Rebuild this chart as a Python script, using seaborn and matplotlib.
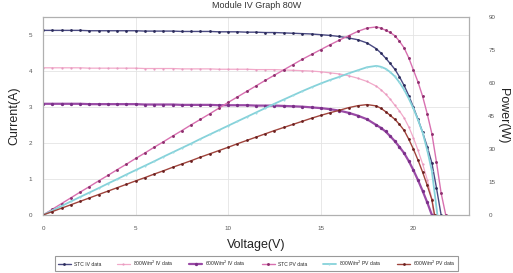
import matplotlib
matplotlib.use("Agg")
import matplotlib.pyplot as plt
import seaborn as sns

# ---------- data ----------
# common voltage points on the flat/linear part (0 .. 18 V, every 0.5 V)
volts = [0, 0.5, 1, 1.5, 2, 2.5, 3, 3.5, 4, 4.5, 5, 5.5, 6, 6.5, 7, 7.5, 8, 8.5, 9, 9.5,
         10, 10.5, 11, 11.5, 12, 12.5, 13, 13.5, 14, 14.5, 15, 15.5, 16, 16.5, 17, 17.5, 18]

# IV curves (A)
stc_iv = [5.13, 5.13, 5.13, 5.13, 5.13, 5.12, 5.12, 5.12, 5.12, 5.12, 5.12, 5.11, 5.11, 5.11, 5.11, 5.10, 5.10, 5.10,
          5.10, 5.09, 5.09, 5.09, 5.08, 5.08, 5.07, 5.07, 5.06, 5.05, 5.04, 5.03, 5.01, 4.99, 4.96, 4.92, 4.87, 4.78, 4.62]
stc_iv_tail_v = [18.25, 18.5, 18.75, 19, 19.25, 19.5, 19.75, 20, 20.25, 20.5, 20.75, 21, 21.25, 21.5]
stc_iv_tail = [4.50, 4.36, 4.21, 4.05, 3.84, 3.60, 3.32, 3.00, 2.66, 2.30, 1.90, 1.45, 0.75, 0.0]

iv_800 = [4.09, 4.09, 4.09, 4.09, 4.09, 4.08, 4.08, 4.08, 4.08, 4.08, 4.08, 4.07, 4.07, 4.07, 4.07, 4.06, 4.06, 4.06,
          4.06, 4.05, 4.05, 4.05, 4.05, 4.04, 4.04, 4.04, 4.03, 4.02, 4.01, 4.00, 3.98, 3.95, 3.92, 3.87, 3.80, 3.71, 3.58]
iv_800_tail_v = [18.25, 18.5, 18.75, 19, 19.25, 19.5, 19.75, 20, 20.25, 20.5, 20.75, 21, 21.1]
iv_800_tail = [3.48, 3.36, 3.22, 3.05, 2.89, 2.70, 2.45, 2.15, 1.80, 1.42, 0.98, 0.45, 0.0]

iv_600 = [3.09, 3.09, 3.09, 3.09, 3.09, 3.08, 3.08, 3.08, 3.08, 3.08, 3.08, 3.07, 3.07, 3.07, 3.07, 3.06, 3.06, 3.06,
          3.06, 3.05, 3.05, 3.05, 3.05, 3.04, 3.04, 3.04, 3.03, 3.02, 3.01, 2.99, 2.97, 2.94, 2.90, 2.84, 2.76, 2.66, 2.50]
iv_600_tail_v = [18.25, 18.5, 18.75, 19, 19.25, 19.5, 19.75, 20, 20.25, 20.5, 20.75, 21]
iv_600_tail = [2.42, 2.32, 2.19, 2.05, 1.89, 1.72, 1.50, 1.25, 0.97, 0.67, 0.35, 0.0]

# PV curves (W)
stc_pv = [0, 2.6, 5.2, 7.8, 10.4, 12.9, 15.5, 18.0, 20.6, 23.1, 25.7, 28.2, 30.8, 33.3, 35.9, 38.4, 41.0, 43.5, 46.0,
          48.6, 51.2, 53.7, 56.2, 58.7, 61.2, 63.6, 66.0, 68.4, 70.8, 73.0, 75.2, 77.4, 79.5, 81.5, 83.5, 85.0, 85.5]
stc_pv_tail_v = [18.25, 18.5, 18.75, 19, 19.25, 19.5, 19.75, 20, 20.25, 20.5, 20.75, 21, 21.25, 21.5, 21.75]
stc_pv_tail = [85.0, 84.0, 83.0, 81.5, 79.0, 76.0, 71.5, 66.0, 60.5, 54.0, 46.0, 37.0, 24.0, 10.0, 0.0]

pv_800 = [0, 2.05, 4.1, 6.15, 8.2, 10.2, 12.2, 14.3, 16.3, 18.4, 20.4, 22.4, 24.4, 26.5, 28.5, 30.5, 32.5, 34.6, 36.6,
          38.6, 40.6, 42.6, 44.6, 46.6, 48.6, 50.6, 52.5, 54.4, 56.3, 58.1, 59.8, 61.4, 62.8, 64.4, 65.8, 67.2, 67.8]
pv_800_tail_v = [18.25, 18.5, 18.75, 19, 19.25, 19.5, 19.75, 20, 20.25, 20.5, 20.75, 21, 21.3]
pv_800_tail = [67.4, 66.5, 65.0, 63.0, 60.3, 57.0, 53.0, 48.5, 43.3, 37.5, 29.5, 20.0, 0.0]

pv_600 = [0, 1.55, 3.1, 4.65, 6.2, 7.75, 9.3, 10.85, 12.4, 13.95, 15.5, 17.0, 18.6, 20.1, 21.7, 23.2, 24.7, 26.3, 27.8,
          29.3, 30.8, 32.4, 33.9, 35.4, 36.9, 38.4, 39.8, 41.2, 42.6, 44.0, 45.3, 46.5, 47.6, 48.8, 49.7, 50.2, 49.6]
pv_600_tail_v = [18.25, 18.5, 18.75, 19, 19.25, 19.5, 19.75, 20, 20.25, 20.5, 20.75, 21, 21.15]
pv_600_tail = [48.5, 47.0, 45.3, 43.5, 41.2, 38.5, 34.5, 30.0, 25.0, 19.5, 13.5, 7.0, 0.0]

labels = ["STC IV data", "800W/m$^2$ IV data", "600W/m$^2$ IV data",
          "STC PV data", "800W/m$^2$ PV data", "600W/m$^2$ PV data"]

# ---------- style ----------
sns.set_theme(style="whitegrid")
plt.rcParams['font.family'] = ['Liberation Sans', 'DejaVu Sans']

fig = plt.figure(figsize=(5.13, 2.73), dpi=100)
ax = fig.add_axes([0.084, 0.2125, 0.83, 0.725])
ax2 = ax.twinx()

# IV curves (left axis)
sns.lineplot(x=volts + stc_iv_tail_v, y=stc_iv + stc_iv_tail, ax=ax, color="#4a4a82", lw=1.0,
             marker="o", markersize=2.0, markeredgewidth=0, markerfacecolor="#2a2a5a",
             label=labels[0], legend=False)
sns.lineplot(x=volts + iv_800_tail_v, y=iv_800 + iv_800_tail, ax=ax, color="#f2a9c9", lw=0.9,
             marker="o", markersize=1.6, markeredgewidth=0, markerfacecolor="#e79bc0",
             label=labels[1], legend=False)
sns.lineplot(x=volts + iv_600_tail_v, y=iv_600 + iv_600_tail, ax=ax, color="#9a4aa6", lw=1.6,
             marker="o", markersize=2.4, markeredgewidth=0, markerfacecolor="#7a2f88",
             label=labels[2], legend=False)

# PV curves (right axis)
sns.lineplot(x=volts + stc_pv_tail_v, y=stc_pv + stc_pv_tail, ax=ax2, color="#d870b0", lw=1.0,
             marker="o", markersize=2.1, markeredgewidth=0, markerfacecolor="#8e2f6e",
             label=labels[3], legend=False)
sns.lineplot(x=volts + pv_800_tail_v, y=pv_800 + pv_800_tail, ax=ax2, color="#86d2da", lw=1.3,
             marker="o", markersize=1.5, markeredgewidth=0, markerfacecolor="#9adbe2",
             label=labels[4], legend=False)
sns.lineplot(x=volts + pv_600_tail_v, y=pv_600 + pv_600_tail, ax=ax2, color="#a0443c", lw=1.0,
             marker="o", markersize=2.0, markeredgewidth=0, markerfacecolor="#6a1f1f",
             label=labels[5], legend=False)

# axes
ax.set_xlim(0, 23)
ax.set_ylim(0, 5.5)
ax.set_xticks([0, 5, 10, 15, 20])
ax.set_yticks([0, 1, 2, 3, 4, 5])
ax2.set_ylim(0, 90)
ax2.set_yticks([0, 15, 30, 45, 60, 75, 90])
ax2.grid(False)
ax.grid(True, color="#e4e4e4", lw=0.6)

for a in (ax, ax2):
    a.tick_params(labelsize=4.5, colors="#555555", length=0, pad=8)
    for s in a.spines.values():
        s.set_color("#b0b0b0")
        s.set_linewidth(0.8)
ax.tick_params(axis="x", pad=8)
ax2.tick_params(axis="y", pad=14)

ax.set_xlabel("Voltage(V)", fontsize=9, labelpad=6, color="#222222")
ax.set_ylabel("Current(A)", fontsize=9, labelpad=6, color="#222222")
ax2.set_ylabel("Power(W)", fontsize=9, rotation=270, labelpad=10, color="#222222")

fig.text(0.5, 0.995, "Module IV Graph 80W", ha="center", va="top", fontsize=6.5, color="#333333")

# legend under the chart
h1, l1 = ax.get_legend_handles_labels()
h2, l2 = ax2.get_legend_handles_labels()
leg = fig.legend(h1 + h2, l1 + l2, loc="center", bbox_to_anchor=(0.5, 0.035), ncol=6,
                 fontsize=3.6, frameon=True, fancybox=False, handlelength=2.6,
                 columnspacing=3.2, borderpad=0.5, handletextpad=0.6)
leg.get_frame().set_edgecolor("#808080")
leg.get_frame().set_linewidth(0.8)

fig.savefig("out.png", dpi=100)
